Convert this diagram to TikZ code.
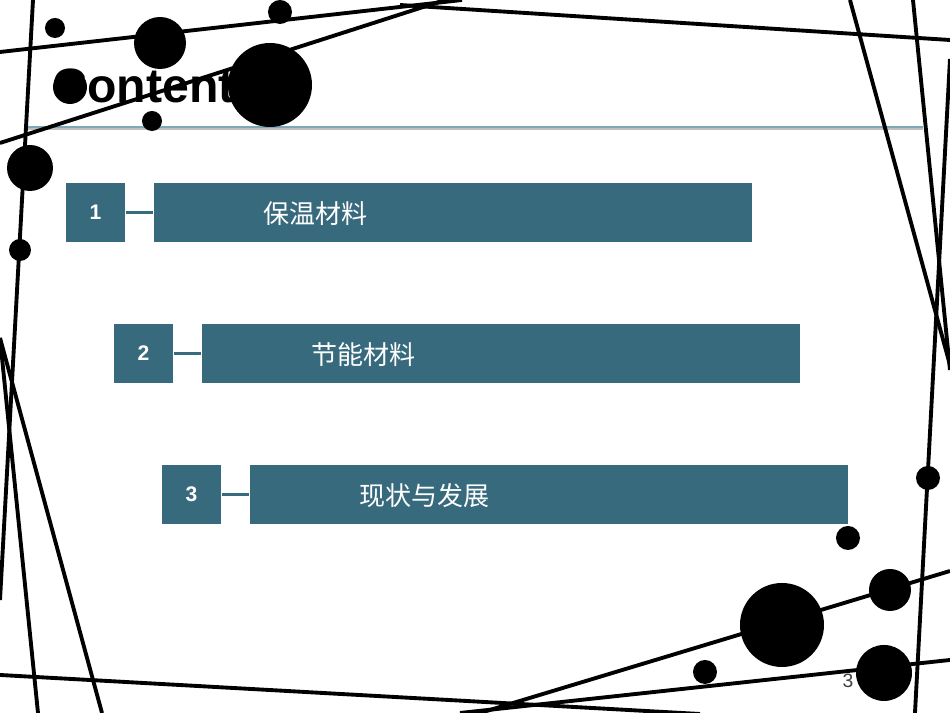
\documentclass[tikz,border=0pt]{standalone}
\usepackage{fontspec}
\setmainfont{Liberation Sans}
\newfontfamily\cjk{Noto Sans CJK SC}
\definecolor{teal}{HTML}{376A7C}
\definecolor{rule}{HTML}{7FA7B5}
\tikzset{
  numbox/.style={fill=teal,minimum width=0.59cm,minimum height=0.59cm,inner sep=0pt,
    text=white,font=\fontsize{6}{7}\selectfont\bfseries},
  barbox/.style={fill=teal,minimum width=5.98cm,minimum height=0.59cm,inner sep=0pt},
  bartext/.style={text=white,font=\cjk\fontsize{7.4}{8}\selectfont,anchor=west},
  stick/.style={line width=1.1pt,black}
}
\begin{document}
\begin{tikzpicture}[x=0.01cm,y=-0.01cm]
  \useasboundingbox (0,0) rectangle (950,713);
  \fill[white] (0,0) rectangle (950,713);
  % title
  \node[anchor=base west,inner sep=0pt,font=\fontsize{13.7}{15}\selectfont\bfseries] (title) at (52,103) {Contents};
  \fill[gray!50] (27,128) rectangle (923,130);
  \fill[rule] (27,126) rectangle (923,128);
  % lines
  \draw[stick] (0,52) -- (462,0);
  \draw[stick] (0,143) -- (445,0);
  \draw[stick] (400,5) -- (950,40);
  \draw[stick] (33,0) -- (0,600);
  \draw[stick] (0,338) -- (38,713);
  \draw[stick] (0,338) -- (102,713);
  \draw[stick] (0,675) -- (700,714);
  \draw[stick] (480,713) -- (950,571);
  \draw[stick] (460,713) -- (950,660);
  \draw[stick] (850,0) -- (950,365);
  \draw[stick] (913,0) -- (950,370);
  \draw[stick] (950,59) -- (915,713);
  % dots
  \foreach \cx/\cy/\r in {55/28/10,160/43/26,280/12/12,270/85/42,70/87/17,152/121/10,
      30/168/23,20/250/11,848/538/12,782/625/42,890/590/21,884/673/28,705/672/12,928/478/12}
    \fill (\cx,\cy) circle (\r);
  % items
  \node[numbox] (n1) at (95.5,212.5) {1};
  \node[barbox] (b1) at (453,212.5) {};
  \node[bartext] at (251,214) {保温材料};
  \node[numbox] (n2) at (143.5,353.5) {2};
  \node[barbox] (b2) at (501,353.5) {};
  \node[bartext] at (299,355) {节能材料};
  \node[numbox] (n3) at (191.5,494.5) {3};
  \node[barbox] (b3) at (549,494.5) {};
  \node[bartext] at (347,496) {现状与发展};
  \draw[teal,line width=0.6pt] (n1) -- (b1);
  \draw[teal,line width=0.6pt] (n2) -- (b2);
  \draw[teal,line width=0.6pt] (n3) -- (b3);
  \node[font=\fontsize{5.5}{6}\selectfont,text=black!75] (page) at (848,681) {3};
\end{tikzpicture}
\end{document}
